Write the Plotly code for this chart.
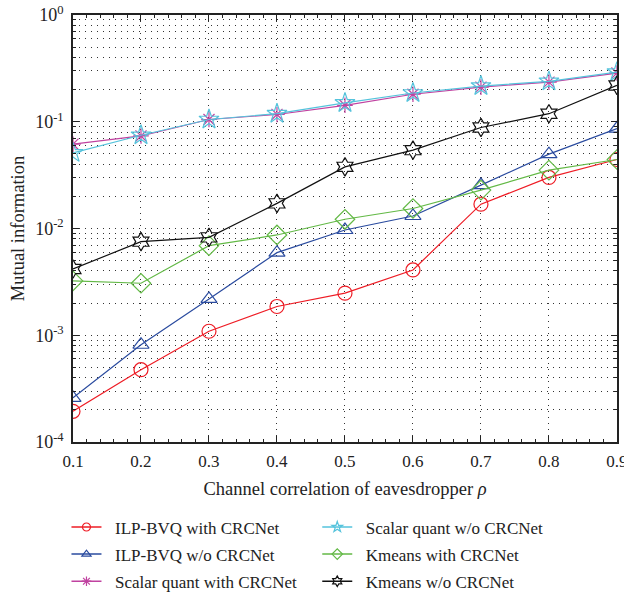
import plotly.graph_objects as go

rho = [0.1, 0.2, 0.3, 0.4, 0.5, 0.6, 0.7, 0.8, 0.9]

ilp_with = [0.000194, 0.000476, 0.00109, 0.00186, 0.00248, 0.00409, 0.0169, 0.0301, 0.0443]
ilp_wo = [0.000259, 0.000815, 0.00219, 0.00594, 0.00968, 0.0131, 0.0255, 0.0497, 0.0864]
scalar_with = [0.0616, 0.0736, 0.105, 0.117, 0.1426, 0.181, 0.211, 0.235, 0.286]
scalar_wo = [0.0511, 0.0747, 0.105, 0.119, 0.150, 0.186, 0.216, 0.239, 0.292]
kmeans_with = [0.00323, 0.00307, 0.0069, 0.0087, 0.0122, 0.0154, 0.0229, 0.0352, 0.0443]
kmeans_wo = [0.00418, 0.00753, 0.00826, 0.0172, 0.0378, 0.0542, 0.0883, 0.119, 0.219]

series = [
    ("ILP-BVQ with CRCNet", ilp_with, "#ee1c25", "circle-open", 14, "legend"),
    ("ILP-BVQ w/o CRCNet", ilp_wo, "#2a4b9f", "triangle-up-open", 14, "legend"),
    ("Scalar quant with CRCNet", scalar_with, "#c042a0", "asterisk-open", 13, "legend"),
    ("Scalar quant w/o CRCNet", scalar_wo, "#55c3dc", "star-open", 15, "legend2"),
    ("Kmeans with CRCNet", kmeans_with, "#63b946", "diamond-open", 15, "legend2"),
    ("Kmeans w/o CRCNet", kmeans_wo, "#111111", "hexagram-open", 14, "legend2"),
]

fig = go.Figure()
for name, vals, col, sym, sz, lg in series:
    fig.add_trace(go.Scatter(
        x=rho, y=vals, name=name, mode="lines+markers",
        line=dict(color=col, width=1.2),
        marker=dict(symbol=sym, size=sz, color=col, line=dict(width=1.2, color=col)),
        showlegend=False,
    ))
# legend entries with smaller symbols, as in the reference
for i, (name, vals, col, sym, sz, lg) in enumerate(series):
    fig.add_trace(go.Scatter(
        x=[None], y=[None], name="\u00a0\u00a0" + name, mode="lines+markers",
        line=dict(color=col, width=1.5),
        marker=dict(symbol=sym, size=8, color=col, line=dict(width=1.2, color=col)),
        legend=lg, legendgroup="g%d" % i, showlegend=True,
    ))

font_family = "Liberation Serif, DejaVu Serif, serif"
ytickvals = [1e-4, 1e-3, 1e-2, 1e-1, 1]
yticktext = ["10<sup>-4</sup>", "10<sup>-3</sup>", "10<sup>-2</sup>", "10<sup>-1</sup>", "10<sup>0</sup>"]
yminor = [k * 10.0 ** e for e in range(-4, 0) for k in range(2, 10)]
grid_dash = "1px,5px"

fig.update_layout(
    width=624, height=593,
    margin=dict(l=73, r=7, t=15, b=151, autoexpand=False),
    paper_bgcolor="white", plot_bgcolor="white",
    font=dict(family=font_family, size=17, color="#222"),
    showlegend=True,
    xaxis=dict(
        range=[0.1, 0.9001], tickvals=rho, ticktext=[str(v) for v in rho],
        ticks="inside", ticklen=6, tickcolor="#222", mirror="allticks",
        showline=True, linecolor="#222", linewidth=1.5,
        showgrid=True, gridcolor="#333", gridwidth=1, griddash=grid_dash,
        ticklabelstandoff=3, ticklabeloverflow="allow",
        minor=dict(dtick=0.02, ticks="inside", ticklen=3, tickcolor="#222", showgrid=False),
        title=dict(text="Channel correlation of eavesdropper <i>ρ</i>", font=dict(size=18.5), standoff=12),
        zeroline=False,
    ),
    yaxis=dict(
        type="log", range=[-4, 0], tickvals=ytickvals, ticktext=yticktext,
        tickfont=dict(size=18),
        ticks="inside", ticklen=6, tickcolor="#222", mirror="allticks",
        showline=True, linecolor="#222", linewidth=1.5,
        showgrid=True, gridcolor="#333", gridwidth=1, griddash=grid_dash,
        ticklabeloverflow="allow", ticklabelstandoff=4,
        minor=dict(tickmode="array", tickvals=yminor, ticks="inside", ticklen=3,
                   tickcolor="#222", showgrid=True,
                   gridcolor="#333", gridwidth=1, griddash=grid_dash),
        title=dict(text="Mutual information", font=dict(size=18.5), standoff=6),
        zeroline=False,
    ),
    legend=dict(x=-0.012, y=-0.158, xanchor="left", yanchor="top",
                bgcolor="rgba(0,0,0,0)", font=dict(size=17), itemwidth=30,
                traceorder="grouped", tracegroupgap=2),
    legend2=dict(x=0.449, y=-0.158, xanchor="left", yanchor="top",
                 bgcolor="rgba(0,0,0,0)", font=dict(size=17), itemwidth=30,
                 traceorder="grouped", tracegroupgap=2),
)

fig.write_html("out.html")
